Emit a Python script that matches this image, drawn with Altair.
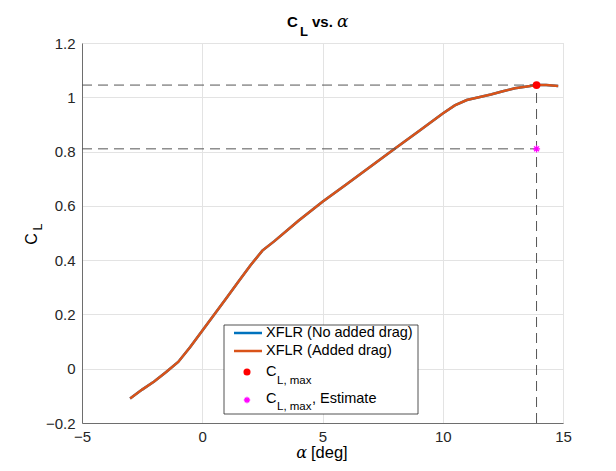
import altair as alt
import pandas as pd

# ---- data ----
alpha = [-3, -2.5, -2, -1.5, -1, -0.5, 0, 0.5, 1, 1.5, 2, 2.5, 3, 4, 5, 6, 7, 8,
         9, 10, 10.5, 11, 11.5, 12, 12.5, 13, 13.5, 13.9, 14.3, 14.8]
cl_no_drag = [-0.11, -0.077, -0.047, -0.012, 0.025, 0.08, 0.14, 0.2, 0.26, 0.32,
              0.38, 0.435, 0.47, 0.545, 0.615, 0.68, 0.745, 0.81, 0.875, 0.94,
              0.97, 0.99, 1.0, 1.01, 1.022, 1.033, 1.04, 1.045, 1.045, 1.042]
cl_added_drag = list(cl_no_drag)
alpha_max = 13.9
cl_max = 1.045
cl_max_est = 0.81

x_ticks = [-5, 0, 5, 10, 15]
y_ticks = [-0.2, 0, 0.2, 0.4, 0.6, 0.8, 1.0, 1.2]

FONT = "Liberation Sans"
BLUE = "#0072BD"
ORANGE = "#D95319"

df_blue = pd.DataFrame({"alpha": alpha, "cl": cl_no_drag})
df_orange = pd.DataFrame({"alpha": alpha, "cl": cl_added_drag})
df_h = pd.DataFrame({"y": [cl_max, cl_max_est], "x0": [x_ticks[0]] * 2, "x1": [alpha_max] * 2})
df_v = pd.DataFrame({"x": [alpha_max], "y0": [y_ticks[0]], "y1": [cl_max]})
df_max = pd.DataFrame({"alpha": [alpha_max], "cl": [cl_max]})
df_est = pd.DataFrame({"alpha": [alpha_max], "cl": [cl_max_est]})

xs = alt.Scale(domain=[x_ticks[0], x_ticks[-1]], nice=False, zero=False)
ys = alt.Scale(domain=[y_ticks[0], y_ticks[-1]], nice=False, zero=False)

ax_common = dict(grid=True, gridColor="#e3e3e3", gridWidth=1, domainColor="#6e6e6e",
                 domainWidth=1, ticks=False, labelFont=FONT, labelFontSize=15,
                 labelColor="#262626", title=None, labelFlush=False, labelOverlap=False)

base_blue = alt.Chart(df_blue).mark_line(color=BLUE, strokeWidth=2.5).encode(
    x=alt.X("alpha:Q", scale=xs, axis=alt.Axis(values=x_ticks, labelPadding=6, **ax_common)),
    y=alt.Y("cl:Q", scale=ys, axis=alt.Axis(values=y_ticks, labelPadding=7,
                                           labelExpr="datum.value == 0 ? '0' : (datum.value == 1 ? '1' : format(datum.value, '.1f'))",
                                           **ax_common)),
)
line_orange = alt.Chart(df_orange).mark_line(color=ORANGE, strokeWidth=2.5).encode(
    x=alt.X("alpha:Q", scale=xs), y=alt.Y("cl:Q", scale=ys))

dash = [10, 6]
hrules = alt.Chart(df_h).mark_rule(color="#555555", strokeWidth=1, strokeDash=dash).encode(
    x=alt.X("x0:Q", scale=xs), x2="x1:Q", y=alt.Y("y:Q", scale=ys))
vrule = alt.Chart(df_v).mark_rule(color="#555555", strokeWidth=1, strokeDash=dash).encode(
    x=alt.X("x:Q", scale=xs), y=alt.Y("y0:Q", scale=ys), y2="y1:Q")

pt_max = alt.Chart(df_max).mark_point(filled=True, color="#FF0000", size=60, opacity=1).encode(
    x=alt.X("alpha:Q", scale=xs), y=alt.Y("cl:Q", scale=ys))
STAR = "M-1,0L1,0M0,-1L0,1M-0.7,-0.7L0.7,0.7M-0.7,0.7L0.7,-0.7"
pt_est = alt.Chart(df_est).mark_point(shape=STAR, filled=False, color="#FF00FF", size=50,
                                      strokeWidth=1.3, opacity=1).encode(
    x=alt.X("alpha:Q", scale=xs), y=alt.Y("cl:Q", scale=ys))

ONE = pd.DataFrame({"k": [0]})


def txt(s, x, y, size, align="left", baseline="alphabetic", font=FONT, **kw):
    return alt.Chart(ONE).mark_text(text=s, fontSize=size, font=font, align=align,
                                    baseline=baseline, color="#000000", **kw).encode(
        x=alt.value(x), y=alt.value(y))


# title  (plot origin is at page (82, 43))
title = [
    txt("C", 205, -16, 15, fontWeight="bold"),
    txt("L", 218, -7, 13, fontWeight="bold"),
    txt("vs.", 230, -16, 15, fontWeight="bold"),
    txt("α", 255, -16, 17, font="DejaVu Serif", fontStyle="italic"),
]
# x label
xlab = [
    txt("α", 225, 410, 16, align="right", baseline="middle", font="DejaVu Serif", fontStyle="italic"),
    txt("[deg]", 229, 410, 16.5, baseline="middle"),
]
# y label (rotated)
ylab = [
    txt("C", -50, 196, 16, align="center", baseline="middle", angle=270),
    txt("L", -44, 184, 12.5, align="center", baseline="middle", angle=270),
]

# legend
lx0, lx1, ly0, ly1 = 142, 336, 282, 371
legend_box = alt.Chart(ONE).mark_rect(fill="white", stroke="#262626", strokeWidth=0.8).encode(
    x=alt.value(lx0), x2=alt.value(lx1), y=alt.value(ly0), y2=alt.value(ly1))
leg_blue = alt.Chart(ONE).mark_rule(color=BLUE, strokeWidth=2.5).encode(
    x=alt.value(152), x2=alt.value(180), y=alt.value(290))
leg_orange = alt.Chart(ONE).mark_rule(color=ORANGE, strokeWidth=2.5).encode(
    x=alt.value(152), x2=alt.value(180), y=alt.value(308))
leg_dot = alt.Chart(ONE).mark_point(filled=True, color="#FF0000", size=50, opacity=1).encode(
    x=alt.value(165), y=alt.value(329))
leg_star = alt.Chart(ONE).mark_point(shape=STAR, filled=False, color="#FF00FF", size=40,
                                     strokeWidth=1.3, opacity=1).encode(
    x=alt.value(165), y=alt.value(357))
leg_text = [
    txt("XFLR (No added drag)", 184, 290, 14.5, baseline="middle"),
    txt("XFLR (Added drag)", 184, 308, 14.5, baseline="middle"),
    txt("C", 184, 333, 14.5),
    txt("L, max", 195, 341, 11.5),
    txt("C", 184, 360, 14.5),
    txt("L, max", 195, 367, 11.5),
    txt(", Estimate", 230, 360, 14.5),
]

chart = alt.layer(
    base_blue, line_orange, hrules, vrule, pt_max, pt_est,
    *title, *xlab, *ylab,
    legend_box, leg_blue, leg_orange, leg_dot, leg_star, *leg_text,
).properties(
    width=481, height=380,
    autosize=alt.AutoSizeParams(type="none"),
    padding={"left": 74, "top": 35, "right": 45, "bottom": 40},
).configure_view(stroke=None).configure(background="white")

chart.save("out.html", embed_options={"renderer": "svg", "actions": False})
